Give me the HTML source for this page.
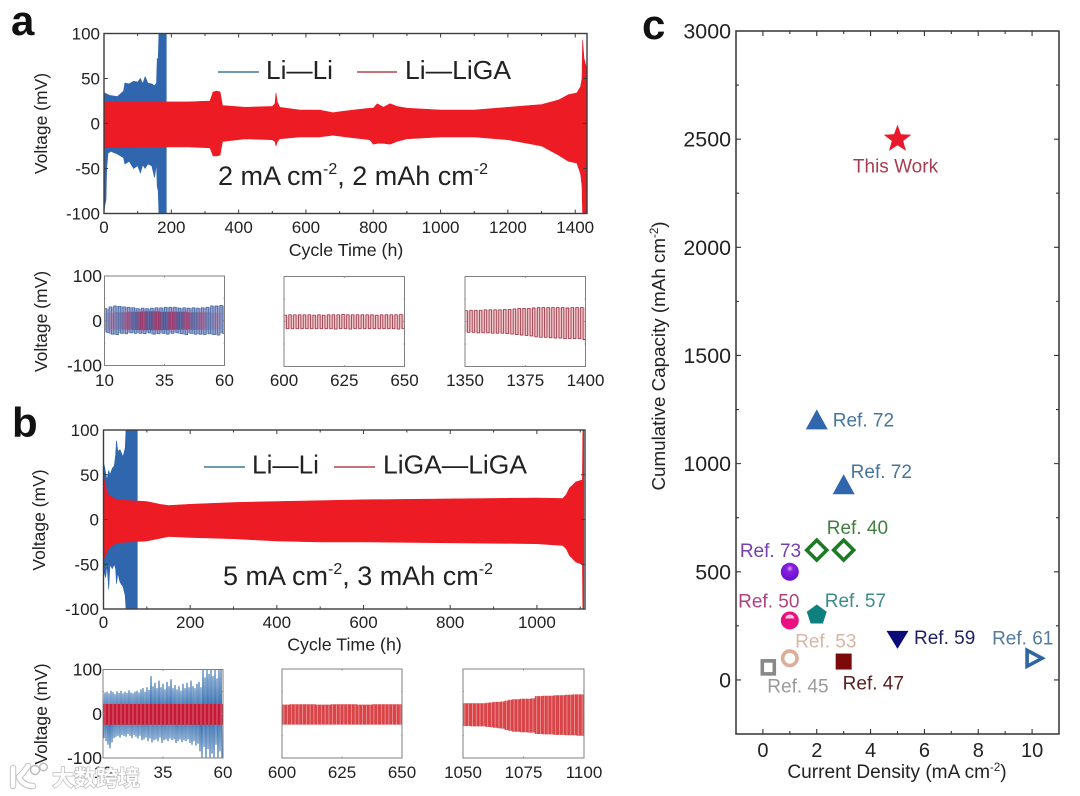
<!DOCTYPE html>
<html lang="en">
<head>
<meta charset="utf-8">
<title>Cycling performance and cumulative capacity</title>
<style>
html,body{margin:0;padding:0;background:#fff;width:1080px;height:796px;overflow:hidden}
svg{display:block;font-family:"Liberation Sans","Noto Sans CJK SC",sans-serif;fill:#222;filter:blur(.35px)}
text{fill:#222}
</style>
</head>
<body>
<svg id="figure" xmlns="http://www.w3.org/2000/svg" width="1080" height="796" viewBox="0 0 1080 796">
  <rect x="0" y="0" width="1080" height="796" fill="#fff"/>
  <defs>
    <linearGradient id="a1RedFade" x1="0" x2="1" y1="0" y2="0">
      <stop offset="0" stop-color="#9a2058" stop-opacity=".1"/>
      <stop offset=".3" stop-color="#9a2058" stop-opacity=".8"/>
      <stop offset=".62" stop-color="#9a2058" stop-opacity=".8"/>
      <stop offset="1" stop-color="#9a2058" stop-opacity=".05"/>
    </linearGradient>
    <radialGradient id="purpleBall" cx=".5" cy=".32" r=".6">
      <stop offset="0" stop-color="#d9a6f2"/><stop offset=".3" stop-color="#8a1fe0"/><stop offset="1" stop-color="#6a10d0"/>
    </radialGradient>
  </defs>

  <text x="11" y="35" font-size="42" font-weight="700" style="fill:#111">a</text>
  <text x="12" y="437" font-size="42" font-weight="700" style="fill:#111">b</text>
  <text x="642" y="39" font-size="42" font-weight="700" style="fill:#111">c</text>

  <g id="plots"></g>

  <!-- Panel a annotations -->
  <text transform="translate(47,123.5) rotate(-90)" text-anchor="middle" font-size="17.5">Voltage (mV)</text>
  <text x="346" y="256" text-anchor="middle" font-size="17.8">Cycle Time (h)</text>
  <line x1="218" x2="259" y1="72" y2="72" stroke="#3f7a9c" stroke-width="1.4"/>
  <text x="266" y="79" font-size="26" textLength="67" lengthAdjust="spacingAndGlyphs">Li—Li</text>
  <line x1="357" x2="397" y1="72" y2="72" stroke="#b8404c" stroke-width="1.4"/>
  <text x="405" y="79" font-size="26" textLength="106" lengthAdjust="spacingAndGlyphs">Li—LiGA</text>
  <text x="218" y="185" font-size="27">2 mA cm<tspan dy="-11" font-size="16">-2</tspan><tspan dy="11">, 2 mAh cm</tspan><tspan dy="-11" font-size="16">-2</tspan></text>
  <text transform="translate(47,321.5) rotate(-90)" text-anchor="middle" font-size="17.5">Voltage (mV)</text>

  <!-- Panel b annotations -->
  <text transform="translate(45,520) rotate(-90)" text-anchor="middle" font-size="17.5">Voltage (mV)</text>
  <text x="344.5" y="650.5" text-anchor="middle" font-size="17.8">Cycle Time (h)</text>
  <line x1="204" x2="245" y1="467" y2="467" stroke="#3f7a9c" stroke-width="1.4"/>
  <text x="252" y="473.5" font-size="26" textLength="67" lengthAdjust="spacingAndGlyphs">Li—Li</text>
  <line x1="334" x2="375" y1="467" y2="467" stroke="#b8404c" stroke-width="1.4"/>
  <text x="383" y="473.5" font-size="26" textLength="144" lengthAdjust="spacingAndGlyphs">LiGA—LiGA</text>
  <text x="223" y="585" font-size="27">5 mA cm<tspan dy="-11" font-size="16">-2</tspan><tspan dy="11">, 3 mAh cm</tspan><tspan dy="-11" font-size="16">-2</tspan></text>
  <text transform="translate(47,714) rotate(-90)" text-anchor="middle" font-size="17.5">Voltage (mV)</text>

  <!-- Panel c annotations -->
  <text transform="translate(665,356) rotate(-90)" text-anchor="middle" font-size="18.8">Cumulative Capacity (mAh cm<tspan dy="-7" font-size="11.5">-2</tspan><tspan dy="7">)</tspan></text>
  <text x="897" y="778" text-anchor="middle" font-size="19.1">Current Density (mA cm<tspan dy="-7" font-size="11.5">-2</tspan><tspan dy="7">)</tspan></text>

  <!-- Watermark -->
  <g>
    <path d="M13 768 L13 786 M19 777 Q25 771 28 766 M19 777 Q23 786 33 786" fill="none" stroke="#c2c2c2" stroke-width="6.5" stroke-linecap="round"/>
    <path d="M13 768 L13 786 M19 777 Q25 771 28 766 M19 777 Q23 786 33 786" fill="none" stroke="#fff" stroke-width="4.5" stroke-linecap="round"/>
    <circle cx="35" cy="770" r="4.5" fill="#fff" stroke="#bbb" stroke-width="1.4"/>
    <circle cx="43.5" cy="767" r="3.8" fill="#fff" stroke="#bbb" stroke-width="1.4"/>
    <text x="52" y="786" font-size="22" font-weight="700" style="fill:#fff;stroke:#b0b0b0;stroke-width:1.2;paint-order:stroke">大数跨境</text>
  </g>
</svg>

<script>
/* ---------- Panel a, main trace envelopes (time in h, voltage in mV) ---------- */
const aBlueTimes  = [0, 2, 6, 8, 12, 20, 40, 58, 62, 75, 88, 100, 108, 115, 122, 130, 142, 150, 156, 158, 161, 163, 185];
const aBlueUpper  = [33, 34, 33, 33, 32, 31, 30, 36, 45, 44, 47, 46, 50, 44, 52, 45, 44, 42, 45, 72, 72, 100, 100];
const aBlueLower  = [-100, -92, -85, -50, -33, -31, -34, -38, -45, -42, -50, -47, -55, -46, -50, -45, -47, -60, -45, -70, -75, -100, -100];
const aRedTimes   = [0, 100, 250, 315, 324, 335, 345, 352, 420, 500, 508, 511, 515, 522, 582, 640, 680, 720, 790, 800, 812, 830, 850, 870, 900, 1000, 1100, 1200, 1300, 1350, 1380, 1405, 1416, 1420, 1422, 1426, 1435];
const aRedUpper   = [24, 24, 24, 25, 35, 36, 35, 20, 18, 19, 22, 34, 24, 18, 15, 15, 12, 14, 17, 17, 22, 18, 22, 19, 17, 15, 15, 18, 21, 26, 32, 34, 41, 50, 93, 72, 60];
const aRedLower   = [-27, -26, -26, -27, -36, -36, -35, -20, -17, -18, -20, -25, -20, -17, -15, -15, -13, -15, -18, -23, -22, -22, -23, -20, -17, -15, -15, -18, -25, -35, -42, -44, -56, -70, -100, -100, -100];

/* ---------- Panel b, main trace envelopes ---------- */
const bBlueTimes  = [0, 2, 5, 8, 12, 15, 20, 25, 28, 30, 33, 38, 45, 50, 52, 78];
const bBlueUpper  = [63, 60, 52, 44, 55, 50, 57, 60, 72, 88, 76, 78, 70, 80, 100, 100];
const bBlueLower  = [-45, -60, -65, -50, -78, -50, -55, -50, -55, -72, -60, -70, -75, -85, -100, -100];
const bRedTimes   = [0, 5, 10, 30, 60, 100, 130, 150, 200, 300, 400, 500, 600, 800, 1000, 1060, 1068, 1075, 1090, 1104, 1105, 1106, 1108];
const bRedUpper   = [48, 38, 28, 22, 21, 20, 17, 15.5, 17, 19, 20, 21, 22, 23, 24, 23.5, 28, 35, 42, 44, 44, 100, 100];
const bRedLower   = [-45, -40, -33, -26, -25, -24, -21, -19, -20, -21.5, -24, -25, -25, -26, -27, -29, -33, -40, -47.5, -50, -50, -100, -100];

/* ---------- Axis ticks ---------- */
const aXTicks = [0, 200, 400, 600, 800, 1000, 1200, 1400];
const aXMinor = [100, 300, 500, 700, 900, 1100, 1300];
const bXTicks = [0, 200, 400, 600, 800, 1000];
const bXMinor = [100, 300, 500, 700, 900, 1100];
const voltageTicks = [-100, -50, 0, 50, 100];
const insetVoltageTicks = [-100, 0, 100];
const insetVoltageMinor = [-50, 50];
const insetA1Ticks = [10, 35, 60];
const insetA2Ticks = [600, 625, 650];
const insetA3Ticks = [1350, 1375, 1400];
const insetB1Ticks = [10, 35, 60];
const insetB2Ticks = [600, 625, 650];
const insetB3Ticks = [1050, 1075, 1100];
const cXTicks = [0, 2, 4, 6, 8, 10];
const cXMinor = [1, 3, 5, 7, 9];
const cYTicks = [0, 500, 1000, 1500, 2000, 2500, 3000];
const cYMinor = [-250, 250, 750, 1250, 1750, 2250, 2750];

/* ---------- Inset cycle peaks (mV per cycle) ---------- */
const a1BlueUpper = [27, 31, 33, 32, 31, 30, 29, 27, 28, 27, 28, 29, 29, 30, 30, 30, 28, 29, 28, 29, 28, 29, 30, 33, 33, 34];
const a1BlueLower = [-26, -30, -31, -28, -29, -27, -28, -28, -29, -27, -30, -29, -28, -30, -28, -27, -29, -31, -28, -30, -30, -31, -29, -31, -32, -28];
const a1RedUpper  = [18, 18, 19, 19, 19, 20, 20, 20, 21, 21, 21, 21, 20, 20, 20, 20, 20, 20, 19, 19, 19, 19, 19, 18, 18, 18];
const a1RedLower  = [-20, -20, -20, -20, -20, -20, -21, -21, -21, -21, -21, -21, -21, -21, -20, -20, -20, -20, -20, -20, -20, -20, -20, -20, -20, -20];
const a2Upper = [14, 15, 15, 15, 15, 15, 14, 15, 14, 15, 15, 15, 16, 15, 15, 15, 15, 15, 15, 14, 15, 15, 15, 15, 16];
const a2Lower = [-16, -16, -16, -16, -16, -16, -16, -16, -16, -16, -17, -16, -16, -17, -16, -16, -16, -16, -16, -16, -16, -16, -16, -17, -16];
const a3Upper = [24, 25, 25, 25, 26, 26, 26, 26, 27, 27, 28, 29, 29, 29, 30, 31, 31, 31, 31, 31, 31, 30, 31, 31, 31];
const a3Lower = [-24, -24, -25, -25, -25, -26, -26, -26, -27, -28, -29, -30, -31, -32, -34, -35, -35, -36, -37, -37, -38, -38, -38, -38, -40];
const b1BlueUpper = [52, 48, 50, 46, 52, 49, 44, 51, 47, 52, 46, 50, 47, 53, 48, 46, 50, 52, 48, 55, 58, 50, 60, 54, 85, 62, 70, 58, 75, 60, 68, 55, 72, 62, 78, 58, 65, 55, 62, 52, 68, 58, 70, 60, 75, 62, 58, 68, 72, 60, 100, 82, 100, 90, 100, 85, 100, 80, 100, 100];
const b1BlueLower = [-55, -62, -70, -78, -65, -55, -52, -50, -54, -48, -50, -52, -46, -50, -55, -48, -52, -56, -50, -60, -58, -54, -62, -56, -65, -60, -58, -62, -54, -66, -60, -58, -62, -56, -60, -58, -66, -62, -58, -64, -60, -62, -58, -66, -70, -62, -72, -68, -85, -100, -75, -100, -80, -100, -90, -100, -70, -100, -85, -100];
const b1RedUpper  = [22, 22, 22, 22, 22, 22, 22, 22, 22, 22, 22, 22, 22, 22, 22, 22, 22, 22, 22, 22, 22, 22, 22, 22, 22, 22, 22, 22, 22, 22];
const b1RedLower  = [-25, -25, -25, -25, -25, -25, -25, -25, -25, -25, -25, -25, -25, -25, -25, -25, -25, -25, -25, -25, -25, -25, -25, -25, -25, -25, -25, -25, -25, -25];
const b2Upper = [20, 20, 21, 21, 21, 21, 21, 21, 21, 20, 20, 20, 20, 21, 21, 21, 21, 21, 21, 21, 20, 20, 20, 20, 21, 21, 21, 21, 21, 21, 21, 21];
const b2Lower = [-25, -25, -25, -25, -25, -25, -25, -25, -25, -25, -25, -25, -25, -25, -25, -25, -25, -25, -25, -25, -25, -25, -25, -25, -25, -25, -25, -25, -25, -25, -25, -25];
const b3Upper = [23, 23, 23, 23, 23, 23, 24, 25, 26, 26, 27, 29, 31, 32, 32, 33, 33, 33, 34, 39, 39, 40, 40, 40, 41, 41, 41, 42, 42, 43, 43, 43];
const b3Lower = [-28, -28, -29, -29, -29, -29, -30, -31, -32, -33, -34, -37, -39, -41, -41, -42, -42, -43, -43, -46, -46, -47, -47, -47, -48, -48, -48, -49, -49, -49, -50, -50];

/* ---------- Panel c values ---------- */
const refLabels   = ['This Work', 'Ref. 72', 'Ref. 72', 'Ref. 40', '', 'Ref. 73', 'Ref. 50', 'Ref. 57', 'Ref. 59', 'Ref. 61', 'Ref. 53', 'Ref. 45', 'Ref. 47'];
const refDensity  = [5, 2, 3, 2, 3, 1, 1, 2, 5, 10, 1, 0.2, 3];
const refCapacity = [2500, 1200, 900, 600, 600, 500, 275, 300, 190, 100, 100, 58, 85];

/* ---------- Drawing ---------- */
const NS = 'http://www.w3.org/2000/svg';
const plots = document.getElementById('plots');
let clipCount = 0;

function add(parent, tag, attrs, text) {
  const el = document.createElementNS(NS, tag);
  for (const k in attrs) el.setAttribute(k, attrs[k]);
  if (text !== undefined) el.textContent = text;
  parent.appendChild(el);
  return el;
}
function scale(d0, d1, r0, r1) {
  return v => r0 + (v - d0) * (r1 - r0) / (d1 - d0);
}
function makeClip(box) {
  const id = 'clip' + (++clipCount);
  const c = add(plots, 'clipPath', {id: id});
  add(c, 'rect', {x: box.l, y: box.t, width: box.r - box.l, height: box.b - box.t});
  return id;
}
function envelope(group, sx, sy, times, upper, lower, color, name) {
  let d = '';
  times.forEach((t, i) => { d += (i ? 'L' : 'M') + sx(t).toFixed(1) + ' ' + sy(upper[i]).toFixed(1); });
  for (let i = times.length - 1; i >= 0; i--) d += 'L' + sx(times[i]).toFixed(1) + ' ' + sy(lower[i]).toFixed(1);
  const p = add(group, 'path', {d: d + 'Z', fill: color, stroke: color, 'stroke-width': .6});
  
  
  return p;
}
function cyclesPath(sx, sy, t0, t1, upper, lower) {
  const n = upper.length, step = (t1 - t0) / n;
  let d = '';
  upper.forEach((u, i) => {
    const a = sx(t0 + i * step), m = sx(t0 + (i + .5) * step), b = sx(t0 + (i + 1) * step);
    d += (i ? 'L' : 'M') + a.toFixed(2) + ' ' + sy(u).toFixed(1);
    d += 'L' + m.toFixed(2) + ' ' + sy(u).toFixed(1);
    d += 'L' + m.toFixed(2) + ' ' + sy(lower[i]).toFixed(1);
    d += 'L' + b.toFixed(2) + ' ' + sy(lower[i]).toFixed(1);
  });
  return d;
}
function zigzagLine(group, sx, sy, t0, t1, upper, lower, color, width, name) {
  const n = upper.length, step = (t1 - t0) / n;
  let d = '';
  upper.forEach((u, i) => {
    d += (i ? 'L' : 'M') + sx(t0 + i * step).toFixed(2) + ' ' + sy(u).toFixed(1);
    d += 'L' + sx(t0 + (i + .5) * step).toFixed(2) + ' ' + sy(lower[i]).toFixed(1);
  });
  const p = add(group, 'path', {d: d, fill: 'none', stroke: color, 'stroke-width': width});
  
  
}
function bandFill(group, sx, sy, t0, t1, upper, lower, color, opacity, name) {
  const n = upper.length, step = (t1 - t0) / n;
  let d = '';
  upper.forEach((u, i) => {
    const a = sx(t0 + i * step), b = sx(t0 + (i + 1) * step);
    d += 'M' + a.toFixed(2) + ' ' + sy(u).toFixed(1) + 'H' + b.toFixed(2) + 'V' + sy(lower[i]).toFixed(1) + 'H' + a.toFixed(2) + 'Z';
  });
  const p = add(group, 'path', {d: d, fill: color, 'fill-opacity': opacity});
  
  
}
function waveLine(group, sx, sy, t0, t1, upper, lower, color, width, name) {
  const p = add(group, 'path', {d: cyclesPath(sx, sy, t0, t1, upper, lower), fill: 'none', stroke: color, 'stroke-width': width});
  
  
}
function stripes(group, sx, sy, t0, t1, upper, lower, color, opacity, width, name) {
  const n = upper.length, step = (t1 - t0) / n;
  let d = '';
  upper.forEach((u, i) => {
    const x = sx(t0 + (i + .5) * step).toFixed(2);
    d += 'M' + x + ' ' + sy(u).toFixed(1) + 'V' + sy(lower[i]).toFixed(1);
  });
  const p = add(group, 'path', {d: d, fill: 'none', stroke: color, 'stroke-opacity': opacity, 'stroke-width': width});
  
  
}
function frame(o) {
  const g = add(plots, 'g', {});
  
  
  const box = o.box, sx = o.sx, sy = o.sy;
  let major = '', minor = '';
  const mj = o.major, mn = o.minor;
  o.xTicks.forEach(v => { const x = sx(v); major += `M${x} ${box.b}v${-mj}M${x} ${box.t}v${mj}`; });
  (o.xMinor || []).forEach(v => { const x = sx(v); minor += `M${x} ${box.b}v${-mn}M${x} ${box.t}v${mn}`; });
  o.yTicks.forEach(v => { const y = sy(v); major += `M${box.l} ${y}h${mj}M${box.r} ${y}h${-mj}`; });
  (o.yMinor || []).forEach(v => { const y = sy(v); minor += `M${box.l} ${y}h${mn}M${box.r} ${y}h${-mn}`; });
  const tk = add(g, 'path', {d: major + minor, fill: 'none', stroke: o.color, 'stroke-width': o.tickWidth});
  
  
  const fr = add(g, 'rect', {x: box.l, y: box.t, width: box.r - box.l, height: box.b - box.t, fill: 'none', stroke: o.color, 'stroke-width': o.frameWidth});
  
  
  o.xTicks.forEach(v => {
    const t = add(g, 'text', {x: sx(v), y: o.xLabelY, 'text-anchor': 'middle', 'font-size': o.xFont}, String(v));
    
    
  });
  (o.yLabels || []).forEach(v => {
    const t = add(g, 'text', {x: o.yLabelX, y: sy(v) + o.yShift, 'text-anchor': 'end', 'font-size': o.yFont}, String(v));
    
    
  });
}
function group(name, box) {
  const g = add(plots, 'g', {'clip-path': 'url(#' + makeClip(box) + ')'});
  
  
  return g;
}

/* Panel a main */
(function () {
  const box = {l: 104, r: 587, t: 33.5, b: 213.5};
  const sx = scale(0, 1435, box.l, box.r), sy = scale(-100, 100, box.b, box.t);
  const g = group('a-main-traces', box);
  envelope(g, sx, sy, aBlueTimes, aBlueUpper, aBlueLower, '#2f66ad', 'a-li-li-series');
  envelope(g, sx, sy, aRedTimes, aRedUpper, aRedLower, '#ed1c24', 'a-li-liga-series');
  frame({name: 'a-main', box, sx, sy, xTicks: aXTicks, xMinor: aXMinor, yTicks: voltageTicks, major: 4, minor: 2.5,
    color: '#3c3c3c', tickWidth: 1, frameWidth: 1.4, xLabelY: 233, xFont: 17, yLabels: voltageTicks, yLabelX: 100, yShift: 6, yFont: 17});
})();

/* Panel b main */
(function () {
  const box = {l: 103.5, r: 585, t: 430, b: 609};
  const sx = scale(0, 1111, box.l, box.r), sy = scale(-100, 100, box.b, box.t);
  const g = group('b-main-traces', box);
  envelope(g, sx, sy, bBlueTimes, bBlueUpper, bBlueLower, '#2f66ad', 'b-li-li-series');
  envelope(g, sx, sy, bRedTimes, bRedUpper, bRedLower, '#ed1c24', 'b-liga-liga-series');
  frame({name: 'b-main', box, sx, sy, xTicks: bXTicks, xMinor: bXMinor, yTicks: voltageTicks, major: 4, minor: 2.5,
    color: '#3c3c3c', tickWidth: 1, frameWidth: 1.4, xLabelY: 628, xFont: 17, yLabels: voltageTicks, yLabelX: 99, yShift: 6, yFont: 17});
})();

function insetBox(name, box, d0, d1, ticks, yLabels, painter) {
  const sx = scale(d0, d1, box.l, box.r), sy = scale(-100, 100, box.b, box.t);
  const g = group(name + '-traces', box);
  painter(g, sx, sy);
  frame({name: name, box, sx, sy, xTicks: ticks, yTicks: insetVoltageTicks, yMinor: insetVoltageMinor, major: 1.5, minor: 1,
    color: '#808080', tickWidth: .8, frameWidth: 1, xLabelY: box.labelY, xFont: 17,
    yLabels: yLabels, yLabelX: 102, yShift: 6, yFont: 17.5});
}

/* Panel a insets */
insetBox('a-inset-1', {l: 104.5, r: 224.5, t: 276, b: 365.5, labelY: 386}, 10, 60, insetA1Ticks, insetVoltageTicks, (g, sx, sy) => {
  bandFill(g, sx, sy, 10, 60, a1BlueUpper, a1BlueLower, '#a0a8cf', 1, 'a1-li-li-fill');
  bandFill(g, sx, sy, 10, 60, a1RedUpper, a1RedLower, 'url(#a1RedFade)', 1, 'a1-li-liga-fill');
  stripes(g, sx, sy, 10, 60, a1RedUpper, a1RedLower, '#e9d8e8', .7, .7, 'a1-cycle-gaps');
  waveLine(g, sx, sy, 10, 60, a1BlueUpper, a1BlueLower, '#4d6fa8', .9, 'a1-li-li-series');
});
insetBox('a-inset-2', {l: 284, r: 404.5, t: 276.5, b: 366.5, labelY: 386}, 600, 650, insetA2Ticks, [], (g, sx, sy) => {
  bandFill(g, sx, sy, 600, 650, a2Upper, a2Lower, '#f0c8cc', 1, 'a2-li-liga-fill');
  waveLine(g, sx, sy, 600, 650, a2Upper, a2Lower, '#a0404e', .9, 'a2-li-liga-series');
});
insetBox('a-inset-3', {l: 465, r: 585.5, t: 276.5, b: 366.5, labelY: 386}, 1350, 1400, insetA3Ticks, [], (g, sx, sy) => {
  bandFill(g, sx, sy, 1350, 1400, a3Upper, a3Lower, '#f0c8cc', 1, 'a3-li-liga-fill');
  waveLine(g, sx, sy, 1350, 1400, a3Upper, a3Lower, '#a0404e', .9, 'a3-li-liga-series');
});

/* Panel b insets */
insetBox('b-inset-1', {l: 103, r: 223, t: 669.5, b: 758, labelY: 778}, 10, 60, insetB1Ticks, insetVoltageTicks, (g, sx, sy) => {
  zigzagLine(g, sx, sy, 10, 60, b1BlueUpper, b1BlueLower, '#3b73b2', 1.1, 'b1-li-li-series');
  bandFill(g, sx, sy, 10, 60, b1RedUpper, b1RedLower, '#c41a36', 1, 'b1-liga-liga-fill');
  stripes(g, sx, sy, 10, 60, b1RedUpper, b1RedLower, '#ee8f98', .8, .8, 'b1-cycle-gaps');
});
insetBox('b-inset-2', {l: 282, r: 402, t: 669, b: 758, labelY: 778}, 600, 650, insetB2Ticks, [], (g, sx, sy) => {
  bandFill(g, sx, sy, 600, 650, b2Upper, b2Lower, '#d84448', 1, 'b2-liga-liga-fill');
  stripes(g, sx, sy, 600, 650, b2Upper, b2Lower, '#f2b0b0', .8, .8, 'b2-cycle-gaps');
});
insetBox('b-inset-3', {l: 463, r: 584, t: 669, b: 758, labelY: 778}, 1050, 1100, insetB3Ticks, [], (g, sx, sy) => {
  bandFill(g, sx, sy, 1050, 1100, b3Upper, b3Lower, '#d84448', 1, 'b3-liga-liga-fill');
  stripes(g, sx, sy, 1050, 1100, b3Upper, b3Lower, '#f2b0b0', .8, .8, 'b3-cycle-gaps');
});

/* Panel c */
const markStyles = [
  {kind: 'star', color: '#e8192c', label: '#a83c50', dx: -2, dy: 33.5, anchor: 'middle'},
  {kind: 'up', color: '#2f66ad', label: '#47749c', dx: 16, dy: 6},
  {kind: 'up', color: '#2f66ad', label: '#47749c', dx: 7, dy: -7},
  {kind: 'diamond', color: '#1c7a22', label: '#3f7f40', dx: 10, dy: -16},
  {kind: 'diamond', color: '#1c7a22', label: '#3f7f40', dx: 0, dy: 0},
  {kind: 'ball', color: 'url(#purpleBall)', label: '#7440b0', dx: -50, dy: -15},
  {kind: 'halfball', color: '#ec0f80', label: '#b0407f', dx: -51.7, dy: -13},
  {kind: 'pentagon', color: '#0f8080', label: '#3f8a8a', dx: 8, dy: -8},
  {kind: 'down', color: '#0a0a78', label: '#1f1f66', dx: 16.5, dy: 5},
  {kind: 'right', color: '#2f66a0', label: '#527b9e', dx: -40, dy: -14},
  {kind: 'ring', color: '#dcae98', label: '#d8b6a6', dx: 5.3, dy: -11},
  {kind: 'square', color: '#888888', label: '#9a9a9a', dx: -1, dy: 25},
  {kind: 'solid', color: '#7d0a0a', label: '#5a2020', dx: -1, dy: 28}
];
function polygonPoints(cx, cy, r, n, start, inner) {
  const pts = [];
  const total = inner ? n * 2 : n;
  for (let i = 0; i < total; i++) {
    const a = start + i * 2 * Math.PI / total;
    const rr = inner && i % 2 ? inner : r;
    pts.push((cx + rr * Math.cos(a)).toFixed(1) + ',' + (cy + rr * Math.sin(a)).toFixed(1));
  }
  return pts.join(' ');
}
function drawMarker(g, x, y, s) {
  const stroke = {fill: 'none', stroke: s.color, 'stroke-width': 3.6};
  let m;
  if (s.kind === 'star') m = add(g, 'polygon', {points: polygonPoints(x, y, 14.5, 5, -Math.PI / 2, 6), fill: s.color});
  else if (s.kind === 'up') m = add(g, 'polygon', {points: `${x - 11},${y + 9} ${x + 11},${y + 9} ${x},${y - 11}`, fill: s.color});
  else if (s.kind === 'down') m = add(g, 'polygon', {points: `${x - 11},${y - 8} ${x + 11},${y - 8} ${x},${y + 10}`, fill: s.color});
  else if (s.kind === 'diamond') m = add(g, 'polygon', Object.assign({points: `${x},${y - 10} ${x + 10},${y} ${x},${y + 10} ${x - 10},${y}`}, stroke));
  else if (s.kind === 'pentagon') m = add(g, 'polygon', {points: polygonPoints(x, y, 10.5, 5, -Math.PI / 2), fill: s.color});
  else if (s.kind === 'right') m = add(g, 'polygon', Object.assign({points: `${x - 5},${y - 8} ${x + 10},${y} ${x - 5},${y + 8}`}, stroke));
  else if (s.kind === 'ring') m = add(g, 'circle', Object.assign({cx: x, cy: y, r: 7.2}, stroke));
  else if (s.kind === 'square') m = add(g, 'rect', Object.assign({x: x - 6, y: y - 6.5, width: 12, height: 13}, stroke));
  else if (s.kind === 'solid') m = add(g, 'rect', {x: x - 8, y: y - 8, width: 16, height: 16, fill: s.color});
  else {
    m = add(g, 'circle', {cx: x, cy: y, r: 9, fill: s.color});
    if (s.kind === 'halfball') {
      const h = add(g, 'path', {d: `M${x - 4.5} ${y - 2}a4.5 4 0 0 1 9 0z`, fill: '#f8c8dc'});
      
      
    }
  }
  
  
}
(function () {
  const box = {l: 736, r: 1059, t: 31, b: 734};
  const sx = scale(-1, 11, box.l, box.r), sy = scale(-250, 3000, box.b, box.t);
  const g = add(plots, 'g', {});
  
  
  refDensity.forEach((d, i) => {
    const x = sx(d), y = sy(refCapacity[i]), s = markStyles[i];
    drawMarker(g, x, y, s);
    if (refLabels[i]) {
      const t = add(g, 'text', {x: x + s.dx, y: y + s.dy, 'font-size': 19, 'text-anchor': s.anchor || 'start', style: 'fill:' + s.label}, refLabels[i]);
      
      
    }
  });
  frame({name: 'c', box, sx, sy, xTicks: cXTicks, xMinor: cXMinor, yTicks: cYTicks, yMinor: cYMinor, major: 5, minor: 3,
    color: '#333', tickWidth: 1.1, frameWidth: 1.5, xLabelY: 757, xFont: 20, yLabels: cYTicks, yLabelX: 731, yShift: 7.5, yFont: 21.4});
})();
</script>
</body>
</html>
